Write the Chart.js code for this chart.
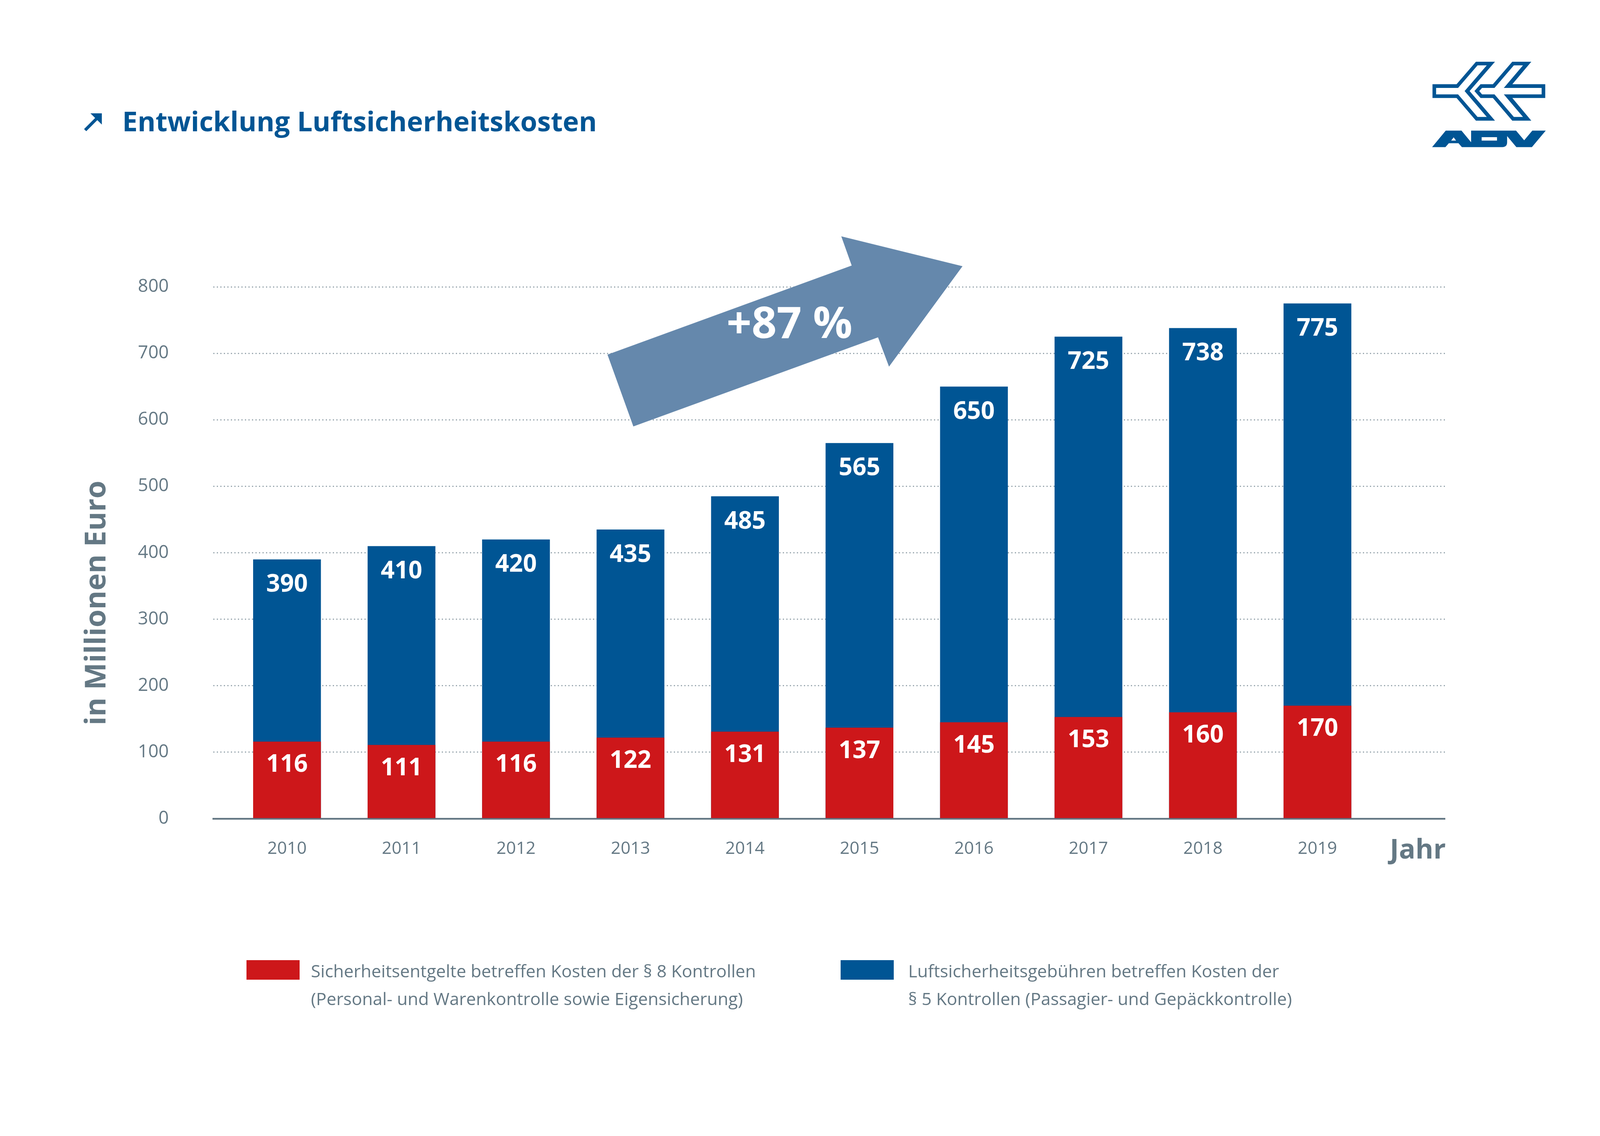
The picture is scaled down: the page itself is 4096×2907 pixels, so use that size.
<!DOCTYPE html>
<html lang="de">
<head>
<meta charset="utf-8">
<title>Entwicklung Luftsicherheitskosten</title>
<script src="https://cdn.jsdelivr.net/npm/chart.js@4.4.1/dist/chart.umd.min.js"></script>
<style>
  html, body { margin: 0; padding: 0; background: #fff; }
  #wrap { position: relative; width: 4096px; height: 2907px; overflow: hidden; }
  #chart { position: absolute; left: 0; top: 0; }
</style>
</head>
<body>
<div id="wrap">
  <canvas id="chart" width="4096" height="2907"></canvas>
</div>
<script>
// Data (Mio. Euro)
const years = [2010, 2011, 2012, 2013, 2014, 2015, 2016, 2017, 2018, 2019];
const gebuehren = [390, 410, 420, 435, 485, 565, 650, 725, 738, 775];   // § 5, blue (total)
const entgelte = [116, 111, 116, 122, 131, 137, 145, 153, 160, 170];    // § 8, red
const yTicks = [0, 100, 200, 300, 400, 500, 600, 700, 800];

const titleText = 'Entwicklung Luftsicherheitskosten';
const yTitle = 'in Millionen Euro';
const xTitle = 'Jahr';
const growthLabel = '+87 %';
const legendRed = ['Sicherheitsentgelte betreffen Kosten der § 8 Kontrollen',
                   '(Personal- und Warenkontrolle sowie Eigensicherung)'];
const legendBlue = ['Luftsicherheitsgebühren betreffen Kosten der',
                    '§ 5 Kontrollen (Passagier- und Gepäckkontrolle)'];

const BLUE = '#005594';
const RED = '#cd171a';
const GREY = '#647884';
const DOTS = '#98a6ae';
const ARROW = '#6588ac';
const FONT = '"Open Sans", "Noto Sans", sans-serif';

// White numbers inside the bars
const barLabels = {
    id: 'barLabels',
    afterDatasetsDraw(chart) {
        const c = chart.ctx;
        c.save();
        c.fillStyle = '#fff';
        c.font = `bold 62px ${FONT}`;
        c.textAlign = 'center';
        c.textBaseline = 'middle';
        chart.data.datasets.forEach((ds, i) => {
            const meta = chart.getDatasetMeta(i);
            const offset = ds.labelOffset;
            meta.data.forEach((bar, j) => {
                c.fillText(String(ds.data[j].y), bar.x, bar.y + offset);
            });
        });
        c.restore();
    }
};

// Big trend arrow, placed in data units
const trendArrow = {
    id: 'trendArrow',
    beforeDatasetsDraw(chart) {
        const {x, y} = chart.scales;
        const pts = [[2012.799, 698], [2014.932, 832], [2014.841, 876], [2015.900, 831],
                     [2015.258, 680], [2015.162, 724], [2013.025, 590]];
        const c = chart.ctx;
        c.save();
        c.fillStyle = ARROW;
        c.beginPath();
        pts.forEach((p, i) => {
            const px = x.getPixelForValue(p[0]), py = y.getPixelForValue(p[1]);
            if (i === 0) c.moveTo(px, py); else c.lineTo(px, py);
        });
        c.closePath();
        c.fill();
        c.fillStyle = '#fff';
        c.font = `bold 112px ${FONT}`;
        c.textAlign = 'center';
        c.textBaseline = 'middle';
        c.fillText(growthLabel, x.getPixelForValue(2014.389), y.getPixelForValue(742));
        c.restore();
    }
};

function poly(c, pts) {
    c.beginPath();
    pts.forEach((p, i) => i ? c.lineTo(p[0], p[1]) : c.moveTo(p[0], p[1]));
    c.closePath();
}

// Title, axis captions, legend, logo
const decor = {
    id: 'decor',
    afterDraw(chart) {
        const c = chart.ctx;
        c.save();

        // title with small arrow
        c.fillStyle = BLUE;
        c.strokeStyle = BLUE;
        c.lineWidth = 8;
        c.beginPath();
        c.moveTo(218, 333);
        c.lineTo(247, 304);
        c.stroke();
        poly(c, [[231.5, 290], [260.7, 290], [260.7, 318.8]]);
        c.fill();
        c.font = `bold 70px ${FONT}`;
        c.textAlign = 'left';
        c.textBaseline = 'alphabetic';
        c.fillText(titleText, 313, 336);

        // axis captions
        c.fillStyle = GREY;
        c.font = `bold 74px ${FONT}`;
        c.save();
        c.translate(270, 1543);
        c.rotate(-Math.PI / 2);
        c.textAlign = 'center';
        c.fillText(yTitle, 0, 0);
        c.restore();
        c.font = `bold 70px ${FONT}`;
        c.fillText(xTitle, 3558, 2197);

        // legend
        c.fillStyle = RED;
        c.fillRect(631, 2457, 136, 50);
        c.fillStyle = BLUE;
        c.fillRect(2152, 2457, 136, 50);
        c.fillStyle = GREY;
        c.font = `44.5px ${FONT}`;
        legendRed.forEach((t, i) => c.fillText(t, 796, 2501 + i * 71));
        legendBlue.forEach((t, i) => c.fillText(t, 2325, 2501 + i * 71));

        // ADV logo
        c.translate(3624.3, 111.9);
        c.scale(0.2568, 0.2568);
        c.fillStyle = BLUE;
        poly(c, [[600,180],[790,180],[537,472],[790,767],[600,767],[407,541],[167,541],[167,403],[407,403]]);
        c.fill();
        poly(c, [[646,403],[769,403],[962,180],[1152,180],[963,403],[1291,403],[1291,541],[963,541],
                 [1152,767],[962,767],[769,541],[646,541],[585,472]]);
        c.fill();
        c.fillStyle = '#fff';
        poly(c, [[616,216],[708,216],[487,472],[708,730],[616,730],[422,505],[203,505],[203,440],[422,440]]);
        c.fill();
        poly(c, [[661,440],[785,440],[978,216],[1069,216],[878,440],[1255,440],[1255,505],[878,505],
                 [1069,730],[978,730],[785,505],[661,505],[633,472]]);
        c.fill();
        c.fillStyle = BLUE;
        c.beginPath();
        [[163,1030],[299,866],[456,866],[552,982],[552,866],[1000,866],[1081,962],[1162,866],[1296,866],
         [1158,1030],[1003,1030],[911,920],[911,982]].forEach((p, i) => i ? c.lineTo(p[0], p[1]) : c.moveTo(p[0], p[1]));
        c.quadraticCurveTo(911, 1030, 863, 1030);
        [[460,1030],[426,991],[330,991],[296,1030]].forEach(p => c.lineTo(p[0], p[1]));
        c.closePath();
        c.moveTo(353, 965); c.lineTo(378, 933); c.lineTo(402, 965); c.closePath();
        c.rect(657, 931, 153, 34);
        c.fill('evenodd');

        c.restore();
    }
};

const ctx = document.getElementById('chart').getContext('2d');
new Chart(ctx, {
    type: 'bar',
    data: {
        datasets: [
            {
                label: legendRed.join(' '),
                data: years.map((yr, i) => ({x: yr, y: entgelte[i]})),
                backgroundColor: RED,
                order: 0,
                labelOffset: 60
            },
            {
                label: legendBlue.join(' '),
                data: years.map((yr, i) => ({x: yr, y: gebuehren[i]})),
                backgroundColor: BLUE,
                order: 1,
                labelOffset: 65
            }
        ]
    },
    options: {
        responsive: false,
        animation: false,
        events: [],
        grouped: false,
        categoryPercentage: 1,
        barPercentage: 0.592,
        layout: {padding: {top: 734, right: 397, bottom: 0, left: 0}},
        plugins: {
            legend: {display: false},
            tooltip: {enabled: false}
        },
        scales: {
            x: {
                type: 'linear',
                min: 2009.356,
                max: 2020.1135,
                offset: false,
                z: 1,
                afterBuildTicks: axis => { axis.ticks = years.map(v => ({value: v})); },
                afterFit: axis => { axis.height = 2907 - 2095; },
                grid: {display: false, drawTicks: false},
                border: {display: true, color: GREY, width: 4.5},
                ticks: {
                    color: GREY,
                    font: {family: FONT, size: 44},
                    padding: 51,
                    autoSkip: false,
                    maxRotation: 0,
                    callback: v => String(v)
                }
            },
            y: {
                min: 0,
                max: 800,
                afterBuildTicks: axis => { axis.ticks = yTicks.map(v => ({value: v})); },
                afterFit: axis => { axis.width = 546; },
                grid: {color: DOTS, lineWidth: 3, drawTicks: false},
                border: {display: false, dash: [3, 6]},
                ticks: {
                    color: GREY,
                    font: {family: FONT, size: 46},
                    padding: 114,
                    callback: v => String(v)
                }
            }
        }
    },
    plugins: [trendArrow, barLabels, decor]
});
</script>
</body>
</html>
